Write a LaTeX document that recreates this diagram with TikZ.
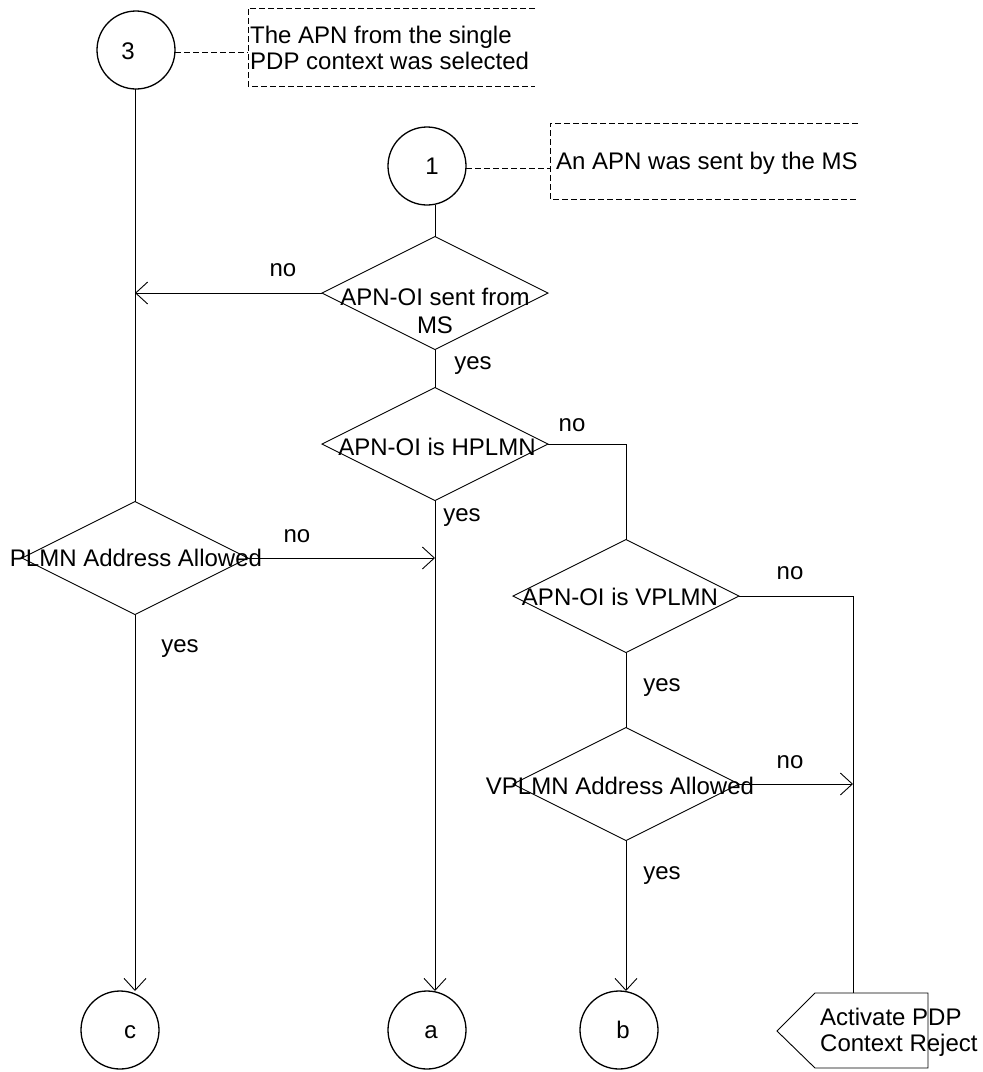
\documentclass[tikz,border=0pt]{standalone}
\usepackage{fontspec}
\setmainfont{Liberation Sans}
\usetikzlibrary{shapes.geometric,arrows.meta}
\begin{document}
\begin{tikzpicture}[x=1pt,y=-1pt,
  every node/.style={font=\fontsize{24}{26}\selectfont},
  flow/.style={line width=0.9pt},
  arr/.style={flow,-{Straight Barb[length=12pt,width=22pt]}},
  dec/.style={draw,diamond,minimum width=226pt,minimum height=113pt,inner sep=0pt,outer sep=0pt,line width=0.9pt},
  conn/.style={draw,circle,minimum size=78pt,inner sep=0pt,outer sep=0pt,line width=1.3pt},
  note/.style={line width=0.9pt,dash pattern=on 6pt off 3pt},
  lbl/.style={inner sep=0pt}
]
\useasboundingbox (0,0) rectangle (983,1072);

% connector circles
\node[conn] (c3) at (136,50) {};
\node[lbl] (c3t) at (128,51) {3};
\node[conn] (c1) at (427,166) {};
\node[lbl] (c1t) at (432,166) {1};
\node[conn] (cc) at (120,1030) {};
\node[lbl] (cct) at (130,1032) {c};
\node[conn] (ca) at (427,1030) {};
\node[lbl] (cat) at (431,1032) {a};
\node[conn] (cb) at (619,1030) {};
\node[lbl] (cbt) at (623,1030) {b};

% annotations
\draw[note] (535,8) -- (248,8) -- (248,86) -- (535,86);
\coordinate (n3in) at (248,52);
\node[lbl,anchor=west,align=left] (n3) at (250,48) {The APN from the single\\PDP context was selected};
\draw[note] (c3.east |- n3in) -- (n3in);

\draw[note] (858,123) -- (550,123) -- (550,199) -- (858,199);
\coordinate (n1in) at (550,168);
\node[lbl,anchor=west] (n1) at (556,163) {An APN was sent by the MS};
\draw[note] (c1.east |- n1in) -- (n1in);

% decisions
\node[dec] (d1) at (435,293) {};
\node[lbl,align=center] (t1) at (435,311) {APN-OI sent from\\[2pt]MS};
\node[dec] (d2) at (435,444) {};
\node[lbl] (t2) at (437,447) {APN-OI is HPLMN};
\node[dec] (d4) at (135,558) {};
\node[lbl] (t4) at (136,558) {PLMN Address Allowed};
\node[dec] (d3) at (626,596) {};
\node[lbl] (t3) at (620,597) {APN-OI is VPLMN};
\node[dec] (d5) at (626,784) {};
\node[lbl] (t5) at (620,786) {VPLMN Address Allowed};

% reject
\draw[line width=0.9pt] (777,1031) -- (815,993) -- (928,993) -- (928,1068) -- (815,1068) -- cycle;
\coordinate (rejtop) at (853,993);
\node[lbl,anchor=west,align=left] (rejt) at (820,1032) {Activate PDP\\Context Reject};

% labels
\node[lbl] (l1) at (283,270) {no};
\node[lbl] (l2) at (473,366) {yes};
\node[lbl] (l3) at (572,425) {no};
\node[lbl] (l4) at (462,518) {yes};
\node[lbl] (l5) at (297,536) {no};
\node[lbl] (l6) at (180,649) {yes};
\node[lbl] (l7) at (790,573) {no};
\node[lbl] (l8) at (662,688) {yes};
\node[lbl] (l9) at (790,762) {no};
\node[lbl] (l10) at (662,876) {yes};

% flow
\draw[flow] (c3.south -| d4.north) -- (d4.north);
\draw[flow] (c1.south -| d1.north) -- (d1.north);
\draw[flow] (d1.south) -- (d2.north);
\draw[arr] (d1.west) -- (d1.west -| d4.north);
\draw[flow] (d2.east) -- (d2.east -| d3.north) -- (d3.north);
\draw[arr] (d2.south) -- (d2.south |- ca.north);
\draw[arr] (d4.east) -- (d4.east -| d2.south);
\draw[arr] (d4.south) -- (d4.south |- cc.north);
\draw[flow] (d3.east) -- (d3.east -| rejtop) -- (rejtop);
\draw[arr] (d5.east) -- (d5.east -| rejtop);
\draw[flow] (d3.south) -- (d5.north);
\draw[arr] (d5.south) -- (d5.south |- cb.north);
\end{tikzpicture}
\end{document}
